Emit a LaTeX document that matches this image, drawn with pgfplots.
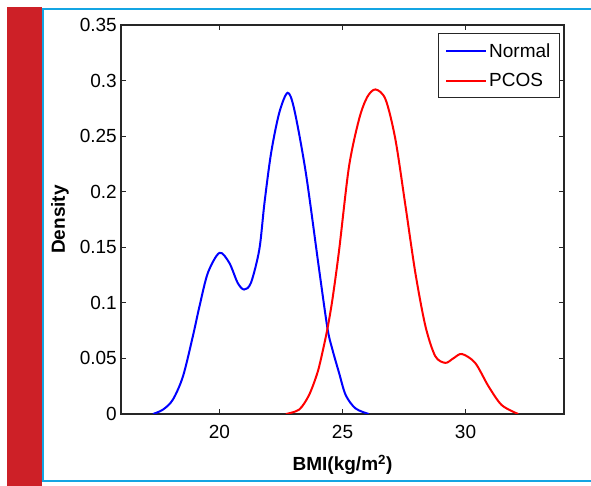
\documentclass[border=0pt]{standalone}
\usepackage{fontspec}
\setmainfont{Liberation Sans}
\usepackage{pgfplots}
\pgfplotsset{compat=1.18}
\definecolor{barred}{HTML}{CD2027}
\definecolor{frameblue}{HTML}{14A5E3}
\newcommand{\lblfont}{\fontsize{19}{19}\selectfont}
\begin{document}
\begin{tikzpicture}[x=1pt,y=1pt]
\path[use as bounding box] (0,0) rectangle (591,486);
% page decoration
\fill[barred] (7,0) rectangle (42,479);
\draw[frameblue, line width=2pt] (42,477) -- (591,477);
\draw[frameblue, line width=2pt] (42,5) -- (591,5);
\draw[frameblue, line width=1.5pt] (43,5) -- (43,477);
\begin{axis}[
  at={(121pt,72pt)}, anchor=south west,
  scale only axis, width=443pt, height=389pt,
  xmin=16, xmax=34, ymin=0, ymax=0.35,
  xtick={20,25,30}, xticklabels={20,25,30},
  ytick={0,0.05,0.1,0.15,0.2,0.25,0.3,0.35},
  yticklabels={0,0.05,0.1,0.15,0.2,0.25,0.3,0.35},
  tick align=inside, major tick length=5pt,
  axis line style={line width=1.3pt, black!85},
  every tick/.style={line width=1.1pt, black!85},
  tick label style={font=\lblfont},
  yticklabel style={inner sep=0pt, xshift=-4pt},
  xticklabel style={inner sep=0pt, yshift=-11pt},
  xlabel={\bfseries BMI(kg/m\textsuperscript{2})},
  ylabel={\bfseries Density},
  label style={font=\lblfont},
  xlabel style={at={(axis description cs:0.5,-0.131)}, anchor=center},
  ylabel style={at={(axis description cs:-0.1377,0.5)}, anchor=center},
  legend style={at={(rel axis cs:0.991,0.979)}, anchor=north east,
    draw=black!85, line width=1.2pt, font=\lblfont,
    inner xsep=7pt, inner ysep=7.5pt, row sep=11pt,
    nodes={inner sep=2pt}},
  legend cell align=left,
  legend image code/.code={\draw[#1, line width=1.5pt] (0pt,0pt) -- (40pt,0pt);},
]
\addplot[blue, line width=2pt, smooth, tension=0.5] coordinates {
  (17.3,0) (17.71,0.004) (18.11,0.013) (18.52,0.034) (18.92,0.07)
  (19.19,0.097) (19.53,0.127) (20.0,0.145) (20.4,0.136) (20.74,0.118)
  (21.0,0.112) (21.28,0.118) (21.62,0.148) (21.83,0.19) (22.1,0.235)
  (22.43,0.271) (22.77,0.289) (23.04,0.274) (23.51,0.217) (24.05,0.13)
  (24.39,0.077) (24.59,0.058) (24.86,0.037) (25.13,0.017) (25.53,0.005)
  (26.07,0)
};
\addplot[red, line width=2pt, smooth, tension=0.5] coordinates {
  (22.7,0) (23.24,0.004) (23.64,0.017) (23.98,0.037) (24.18,0.055)
  (24.39,0.077) (24.59,0.103) (24.86,0.147) (25.26,0.222) (25.67,0.265)
  (26.0,0.285) (26.34,0.292) (26.75,0.283) (27.15,0.247) (27.56,0.187)
  (27.96,0.127) (28.37,0.079) (28.77,0.052) (29.18,0.046) (29.5,0.05)
  (29.85,0.054) (30.39,0.046) (30.93,0.025) (31.47,0.008) (32.14,0)
};
\legend{Normal, PCOS}
\end{axis}
\end{tikzpicture}
\end{document}
